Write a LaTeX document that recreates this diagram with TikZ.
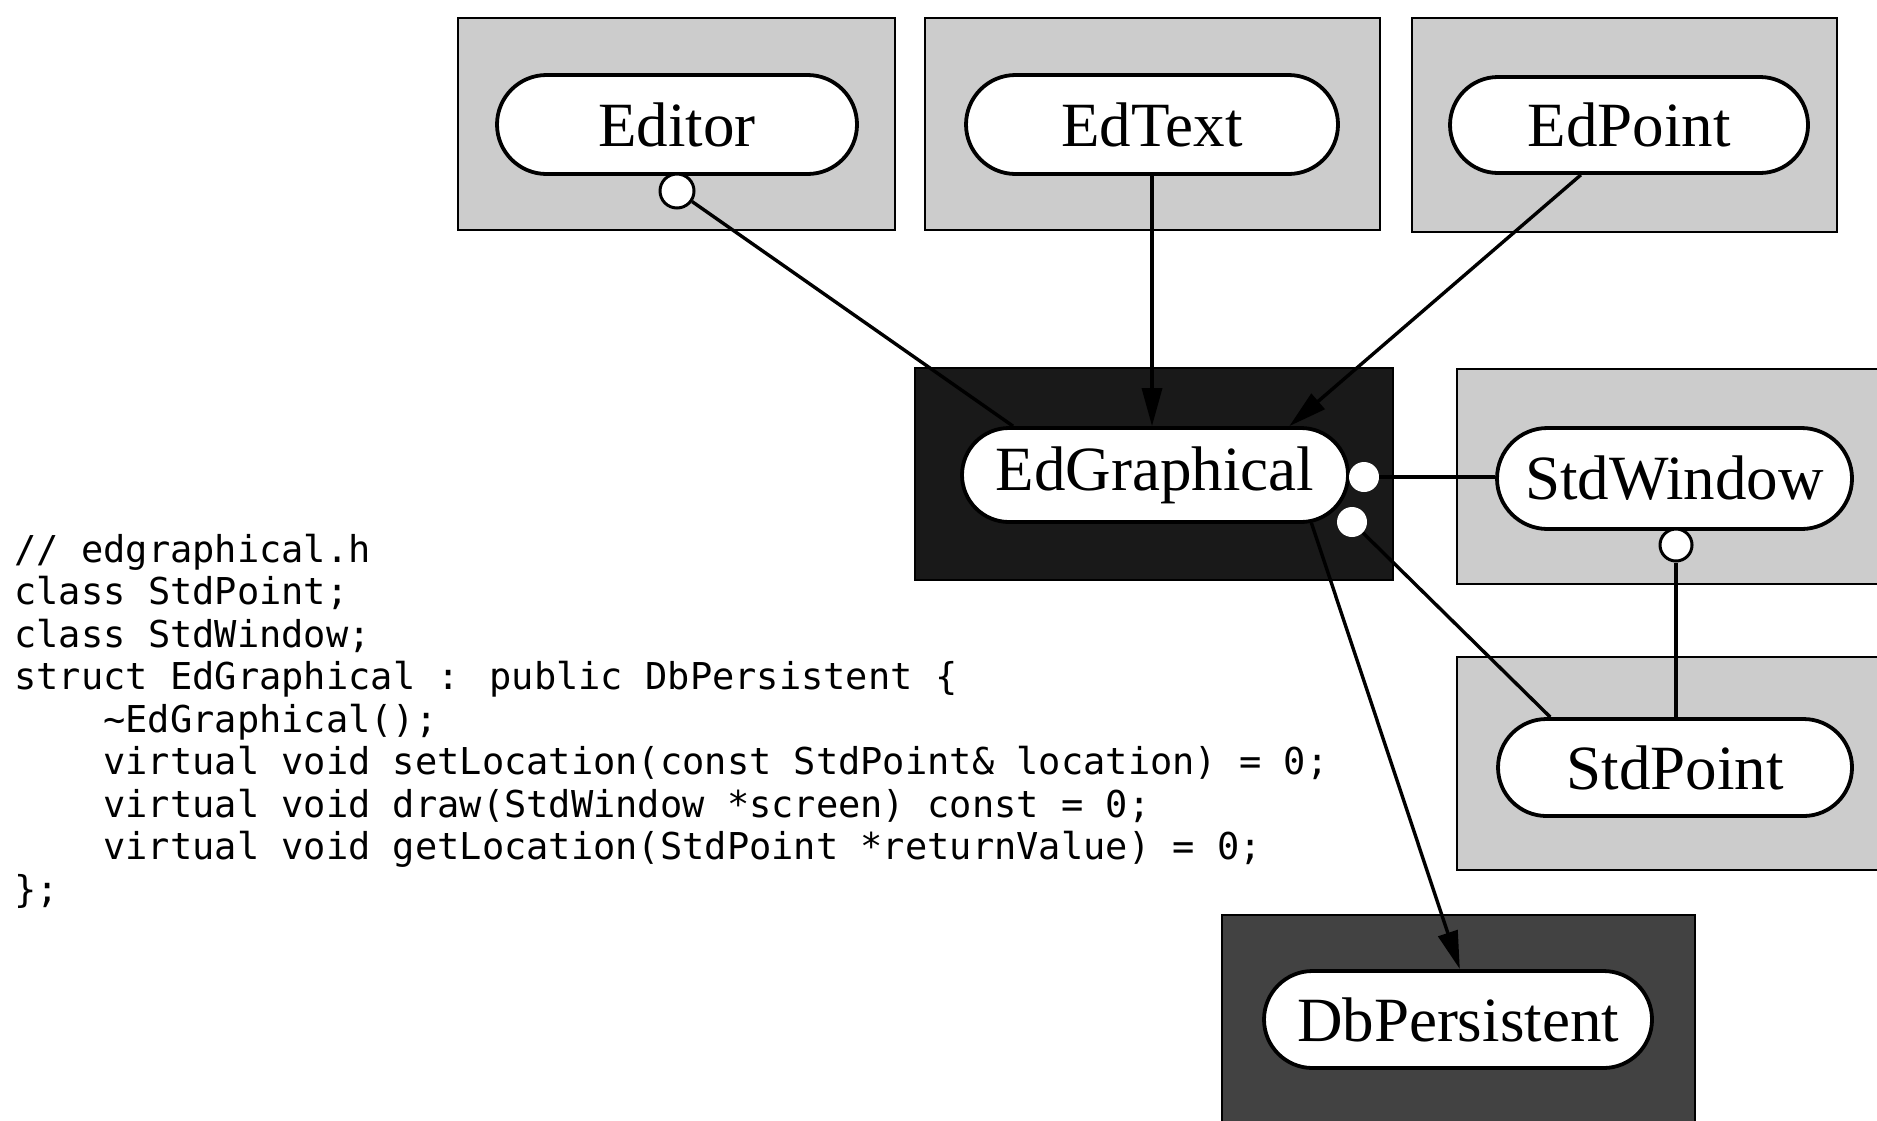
\documentclass[tikz,border=0pt]{standalone}
\usepackage{fontspec}
\setmainfont{Liberation Serif}
\newfontfamily\codefont{DejaVu Sans Mono}
\usetikzlibrary{shapes.misc,arrows.meta}
\begin{document}
\begin{tikzpicture}[x=0.5pt,y=-0.5pt,
  lightbox/.style={rectangle, draw=black, line width=1pt, fill=black!20, inner sep=0pt},
  darkbox/.style={rectangle, draw=black, line width=1pt, fill=black!90, inner sep=0pt},
  medbox/.style={rectangle, draw=black, line width=1pt, fill=black!74, inner sep=0pt},
  pill/.style={rounded rectangle, draw=black, line width=1.9pt, fill=white, inner sep=0pt,
    font=\fontsize{31.5}{31.5}\selectfont},
  usecirc/.style={circle, draw=black, line width=1.5pt, fill=white, inner sep=0pt},
  dotc/.style={circle, fill=white, inner sep=0pt, minimum size=15pt},
  link/.style={line width=1.7pt, draw=black},
  inherit/.style={link, -{Triangle[length=19pt,width=10pt]}},
  codeline/.style={anchor=base west, inner sep=0pt, font=\codefont\fontsize{18.5}{18.5}\selectfont}
]
\clip (0,0) rectangle (1877,1120);
\fill[white] (0,0) rectangle (1877,1120);

% boxes
\node[lightbox, minimum width=218.5pt, minimum height=106pt] (editorbox) at (676.5,124) {};
\node[lightbox, minimum width=227.5pt, minimum height=106pt] (edtextbox) at (1152.5,124) {};
\node[lightbox, minimum width=212.5pt, minimum height=107pt] (edpointbox) at (1624.5,125) {};
\node[darkbox, minimum width=239pt, minimum height=106pt] (edgbox) at (1154,474) {};
\node[lightbox, minimum width=216.5pt, minimum height=107.5pt] (stdwinbox) at (1673.5,476.5) {};
\node[lightbox, minimum width=216.5pt, minimum height=106.5pt] (stdptbox) at (1673.5,763.5) {};
\node[medbox, minimum width=236.5pt, minimum height=107.5pt] (dbbox) at (1458.5,1022.5) {};

% pills
\node[pill, minimum width=180pt, minimum height=49.5pt] (editor) at (677,124.5) {Editor};
\node[pill, minimum width=186pt, minimum height=49.5pt] (edtext) at (1152,124.5) {EdText};
\node[pill, minimum width=179pt, minimum height=48pt] (edpoint) at (1629,125) {EdPoint};
\node[pill, minimum width=193pt, minimum height=47pt] (edg) at (1155,475) {EdGraphical};
\node[pill, minimum width=177.5pt, minimum height=50.5pt] (stdwin) at (1674.5,478.5) {StdWindow};
\node[pill, minimum width=177pt, minimum height=48.5pt] (stdpt) at (1675,767.5) {StdPoint};
\node[pill, minimum width=194pt, minimum height=48.5pt] (db) at (1458,1019.5) {DbPersistent};

% uses circles
\node[usecirc, minimum size=17pt] (edcirc) at (677,191) {};
\node[usecirc, minimum size=16pt] (swcirc) at (1676,545) {};
\node[dotc] (gc1) at (1364,477) {};
\node[dotc] (gc2) at (1352,522) {};

% connectors
\draw[link] (edcirc) -- (edg.161);
\draw[inherit] (edtext.south) -- (edtext.south |- edg.north);
\draw[inherit] (edpoint.226) -- (edg.20);
\draw[link] (gc1.east) -- (gc1.east -| stdwin.west);
\draw[link] (gc2) -- (stdpt.158);
\draw[link] (swcirc.south) -- (swcirc.south |- stdpt.north);
\draw[inherit] (edg.-17) -- (db.88);

% code
\node[codeline] (code1) at (14,562) {// edgraphical.h};
\node[codeline] (code2) at (14,604.5) {class StdPoint;};
\node[codeline] (code3) at (14,647) {class StdWindow;};
\node[codeline] (code4) at (14,689.5) {struct EdGraphical : public DbPersistent \{};
\node[codeline] (code5) at (103,732) {\textasciitilde EdGraphical();};
\node[codeline] (code6) at (103,774.5) {virtual void setLocation(const StdPoint\& location) = 0;};
\node[codeline] (code7) at (103,817) {virtual void draw(StdWindow *screen) const = 0;};
\node[codeline] (code8) at (103,859.5) {virtual void getLocation(StdPoint *returnValue) = 0;};
\node[codeline] (code9) at (14,902) {\};};
\end{tikzpicture}
\end{document}
